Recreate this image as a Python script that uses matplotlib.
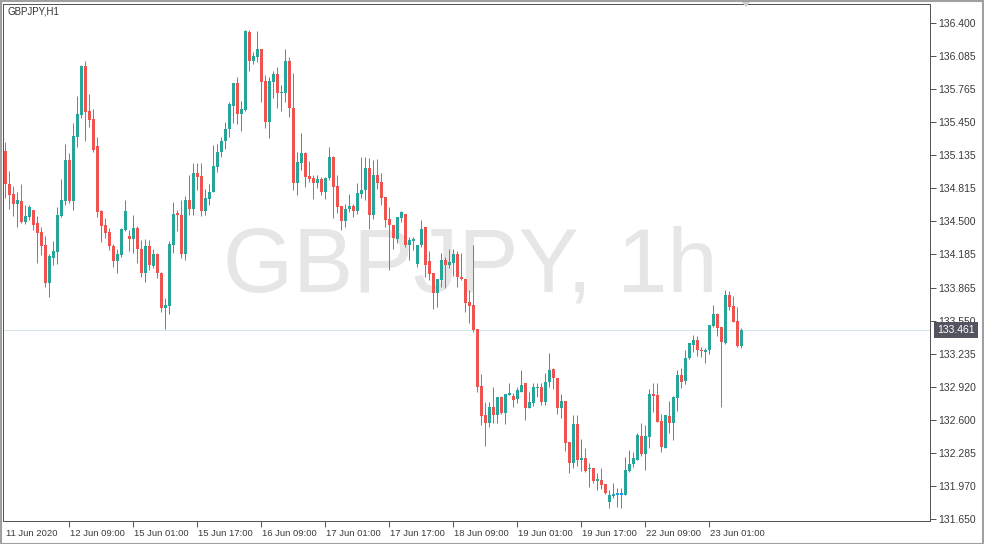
import matplotlib
matplotlib.use("Agg")
import matplotlib.pyplot as plt
import matplotlib.transforms as mtransforms
from matplotlib.patches import Rectangle, Polygon
import numpy as np

plt.rcParams['font.family'] = ['Liberation Sans', 'DejaVu Sans']

symbol_title = "GBPJPY,H1"
watermark = "GBPJPY, 1h"
time_labels = ["11 Jun 2020", "12 Jun 09:00", "15 Jun 01:00", "15 Jun 17:00",
               "16 Jun 09:00", "17 Jun 01:00", "17 Jun 17:00", "18 Jun 09:00",
               "19 Jun 01:00", "19 Jun 17:00", "22 Jun 09:00", "23 Jun 01:00"]
time_label_bars = [0, 16, 32, 48, 64, 80, 96, 112, 128, 144, 160, 176]
price_tick_labels = ["131.650", "131.970", "132.285", "132.600", "132.920",
                     "133.235", "133.550", "133.865", "134.185", "134.500",
                     "134.815", "135.135", "135.450", "135.765", "136.085",
                     "136.400"]
current_price = 133.461

opens = [135.174, 134.859, 134.763, 134.667, 134.695, 134.494, 134.542, 134.609, 134.485, 134.399,
         134.274, 133.910, 134.149, 134.207, 134.552, 134.695, 135.088, 134.695, 135.309, 135.519,
         135.988, 135.558, 135.481, 135.222, 134.600, 134.465, 134.399, 134.264, 134.121, 134.178,
         134.418, 134.360, 134.331, 134.437, 134.236, 134.006, 134.264, 134.073, 134.188, 134.006,
         133.670, 133.690, 134.274, 134.580, 134.561, 134.188, 134.705, 134.619, 134.964, 134.935,
         134.600, 134.715, 134.782, 135.021, 135.165, 135.270, 135.385, 135.606, 135.825, 135.529,
         135.567, 136.314, 136.036, 136.074, 136.151, 135.844, 135.452, 135.835, 135.911, 135.729,
         135.729, 136.036, 135.586, 134.868, 135.060, 135.155, 134.935, 134.916, 134.868, 134.906,
         134.782, 134.916, 135.117, 134.839, 134.648, 134.504, 134.619, 134.648, 134.600, 134.763,
         134.801, 135.012, 134.561, 134.945, 134.878, 134.734, 134.523, 134.465, 134.331, 134.533,
         134.571, 134.274, 134.312, 134.092, 134.274, 134.446, 134.121, 134.006, 133.814, 133.939,
         134.130, 134.083, 134.102, 134.188, 133.968, 133.948, 133.728, 133.699, 133.469, 132.923,
         132.646, 132.570, 132.723, 132.646, 132.818, 132.665, 132.837, 132.828, 132.799, 132.866,
         132.952, 132.713, 132.761, 132.904, 132.914, 132.771, 132.962, 133.086, 133.000, 132.713,
         132.780, 132.388, 132.187, 132.560, 132.215, 132.234, 132.129, 132.139, 132.014, 132.024,
         131.985, 131.813, 131.871, 131.890, 131.890, 131.880, 132.110, 132.177, 132.215, 132.445,
         132.273, 132.436, 132.847, 132.837, 132.589, 132.330, 132.637, 132.570, 132.809, 133.029,
         132.971, 133.191, 133.316, 133.364, 133.268, 133.249, 133.268, 133.498, 133.613, 133.488,
         133.335, 133.795, 133.690, 133.546, 133.306]

highs = [135.261, 134.983, 134.839, 134.782, 134.859, 134.657, 134.657, 134.609, 134.552, 134.446,
         134.360, 134.188, 134.312, 134.638, 134.906, 135.242, 135.155, 135.443, 135.701, 135.998,
         136.036, 135.720, 135.577, 135.309, 134.609, 134.533, 134.437, 134.284, 134.236, 134.437,
         134.705, 134.418, 134.561, 134.456, 134.322, 134.331, 134.322, 134.236, 134.197, 134.015,
         133.766, 134.312, 134.686, 134.609, 134.705, 134.744, 134.945, 135.060, 135.060, 135.060,
         134.811, 134.859, 135.232, 135.242, 135.309, 135.452, 135.644, 135.825, 135.883, 135.653,
         136.333, 136.333, 136.122, 136.323, 136.151, 135.902, 135.883, 135.940, 135.978, 135.806,
         136.151, 136.074, 135.921, 135.165, 135.347, 135.165, 135.079, 134.945, 134.945, 134.926,
         134.926, 135.213, 135.127, 134.945, 134.648, 134.667, 134.763, 134.667, 134.868, 135.117,
         135.117, 135.107, 135.088, 135.098, 134.964, 134.734, 134.638, 134.465, 134.542, 134.600,
         134.571, 134.351, 134.351, 134.274, 134.513, 134.446, 134.216, 134.006, 133.948, 134.197,
         134.159, 134.236, 134.236, 134.216, 134.197, 133.948, 133.843, 134.274, 133.469, 133.038,
         132.771, 132.771, 132.910, 132.818, 132.828, 132.847, 132.952, 132.856, 132.914, 133.077,
         132.952, 132.866, 132.952, 132.952, 132.952, 133.048, 133.239, 133.096, 133.000, 132.847,
         132.780, 132.388, 132.646, 132.646, 132.416, 132.330, 132.187, 132.139, 132.091, 132.139,
         131.985, 131.928, 131.995, 131.947, 131.947, 132.244, 132.311, 132.292, 132.474, 132.570,
         132.551, 132.895, 132.952, 132.952, 132.656, 132.646, 132.780, 132.828, 133.077, 133.096,
         133.268, 133.335, 133.412, 133.402, 133.297, 133.287, 133.507, 133.699, 133.622, 133.488,
         133.843, 133.833, 133.785, 133.680, 133.479]

lows = [134.724, 134.619, 134.552, 134.446, 134.485, 134.475, 134.513, 134.418, 134.102, 134.178,
        133.872, 133.776, 134.083, 134.092, 134.542, 134.657, 134.676, 134.609, 135.213, 135.491,
        135.270, 135.404, 135.165, 134.542, 134.303, 134.341, 134.226, 134.063, 134.006, 134.159,
        134.408, 134.216, 134.197, 134.102, 133.968, 133.920, 134.035, 134.054, 133.958, 133.632,
        133.469, 133.613, 134.197, 134.408, 134.149, 134.130, 134.561, 134.561, 134.801, 134.552,
        134.561, 134.657, 134.782, 134.973, 135.117, 135.194, 135.309, 135.443, 135.433, 135.366,
        135.558, 135.940, 136.007, 136.026, 135.644, 135.395, 135.299, 135.681, 135.586, 135.558,
        135.644, 135.500, 134.801, 134.753, 134.993, 134.830, 134.878, 134.715, 134.820, 134.753,
        134.715, 134.897, 134.533, 134.580, 134.418, 134.446, 134.590, 134.542, 134.571, 134.724,
        134.705, 134.427, 134.523, 134.811, 134.657, 134.446, 134.035, 134.236, 134.293, 134.494,
        134.255, 134.130, 134.226, 134.063, 134.255, 133.968, 133.939, 133.661, 133.680, 133.872,
        133.862, 134.054, 133.977, 133.872, 133.939, 133.632, 133.527, 133.441, 132.866, 132.550,
        132.349, 132.531, 132.570, 132.570, 132.656, 132.560, 132.837, 132.723, 132.761, 132.866,
        132.598, 132.713, 132.732, 132.818, 132.742, 132.742, 132.914, 132.895, 132.656, 132.618,
        132.301, 132.091, 132.139, 132.158, 132.110, 132.100, 131.957, 131.995, 131.928, 131.938,
        131.890, 131.755, 131.852, 131.765, 131.755, 131.880, 132.100, 132.148, 132.215, 132.254,
        132.120, 132.330, 132.675, 132.580, 132.292, 132.330, 132.474, 132.407, 132.685, 132.904,
        132.943, 133.182, 133.249, 133.211, 133.201, 133.144, 133.230, 133.488, 133.402, 132.723,
        133.326, 133.651, 133.536, 133.297, 133.287]

closes = [134.859, 134.753, 134.667, 134.705, 134.494, 134.552, 134.638, 134.465, 134.389, 134.264,
          133.910, 134.169, 134.216, 134.561, 134.705, 135.088, 134.695, 135.318, 135.529, 135.988,
          135.548, 135.471, 135.184, 134.590, 134.456, 134.389, 134.264, 134.121, 134.188, 134.427,
          134.600, 134.331, 134.437, 134.236, 134.006, 134.264, 134.083, 134.188, 134.006, 133.670,
          133.699, 134.284, 134.571, 134.561, 134.188, 134.705, 134.619, 134.964, 134.926, 134.600,
          134.724, 134.782, 135.031, 135.165, 135.270, 135.385, 135.625, 135.825, 135.529, 135.577,
          136.323, 136.036, 136.084, 136.151, 135.835, 135.452, 135.844, 135.911, 135.729, 135.739,
          136.036, 135.586, 134.868, 135.069, 135.155, 134.926, 134.906, 134.868, 134.906, 134.782,
          134.916, 135.117, 134.830, 134.638, 134.504, 134.619, 134.648, 134.600, 134.772, 134.801,
          135.012, 134.561, 134.945, 134.868, 134.724, 134.513, 134.465, 134.341, 134.542, 134.590,
          134.274, 134.322, 134.331, 134.274, 134.427, 134.083, 133.996, 133.814, 133.948, 134.130,
          134.083, 134.111, 134.188, 133.968, 133.948, 133.718, 133.690, 133.460, 132.914, 132.637,
          132.570, 132.723, 132.646, 132.818, 132.665, 132.847, 132.856, 132.790, 132.885, 132.933,
          132.713, 132.771, 132.914, 132.914, 132.771, 132.962, 133.077, 133.000, 132.713, 132.780,
          132.378, 132.187, 132.560, 132.215, 132.234, 132.110, 132.139, 132.014, 132.033, 131.976,
          131.900, 131.880, 131.890, 131.890, 131.890, 132.120, 132.177, 132.234, 132.455, 132.273,
          132.445, 132.847, 132.828, 132.580, 132.340, 132.646, 132.570, 132.818, 133.029, 132.962,
          133.191, 133.335, 133.364, 133.268, 133.258, 133.268, 133.507, 133.613, 133.479, 133.345,
          133.795, 133.680, 133.536, 133.306, 133.461]

UP = '#26a69a'
DOWN = '#ef5350'
DOJI = '#2196f3'

W, H = 984, 544
fig = plt.figure(figsize=(W / 100, H / 100), dpi=100)
fig.patch.set_facecolor('white')

# chart frame in pixels: left 3, right 930, top 4, bottom 521
ax = fig.add_axes([3 / W, (H - 521) / H, (930 - 3) / W, (521 - 4) / H])
ax.set_facecolor('white')

o = np.array(opens); h = np.array(highs); l = np.array(lows); c = np.array(closes)
x = np.arange(len(o))
colors = np.where(c > o, UP, np.where(c < o, DOWN, DOJI))

px = 1 * 72 / 100  # one pixel in points
ax.vlines(x, l, h, colors=colors, linewidth=px, zorder=3)
bottoms = np.minimum(o, c)
heights = np.maximum(np.abs(c - o), 0.011)
ax.bar(x, heights, bottom=bottoms - np.where(c == o, 0.0055, 0), width=0.75,
       color=colors, linewidth=0, zorder=4)

# watermark
ax.text(0.5043, 0.489, watermark, transform=ax.transAxes, ha='center', va='center',
        fontsize=65, color='#e6e6e6', zorder=0)

# current price line
ax.axhline(current_price, color='#d3e3ec', linewidth=px, zorder=1)

# limits
ax.set_xlim(-0.575, 231.175)
ax.set_ylim(131.631, 136.582)

# y axis on the right
ax.yaxis.tick_right()
ax.set_yticks(np.linspace(131.65, 136.4, len(price_tick_labels)))
ax.set_yticklabels(price_tick_labels)
ax.tick_params(axis='y', direction='out', length=4, width=px, color='#555555',
               labelsize=7.5, labelcolor='#3a3a3a', pad=2)

ax.set_xticks(time_label_bars)
ax.set_xticklabels(time_labels)
ax.tick_params(axis='x', direction='out', length=4, width=px, color='#555555',
               labelsize=6.8, labelcolor='#3a3a3a', pad=1.5)
offset = mtransforms.ScaledTranslation(1 / 100, 0, fig.dpi_scale_trans)
for lbl in ax.get_xticklabels():
    lbl.set_horizontalalignment('left')
    lbl.set_transform(lbl.get_transform() + offset)
ax.xaxis.get_major_ticks()[0].tick1line.set_visible(False)

for s in ax.spines.values():
    s.set_color('#555555')
    s.set_linewidth(px)

# current price label box
ax.annotate(f"{current_price:.3f}", xy=(1, current_price), xycoords=('axes fraction', 'data'),
            xytext=(5, 0), textcoords='offset points', ha='left', va='center',
            fontsize=7.5, color='white',
            bbox=dict(boxstyle='square,pad=0.3', facecolor='#545460', edgecolor='none'),
            annotation_clip=False)

# title
fig.text(8 / W, 1 - 12 / H, symbol_title, ha='left', va='center', fontsize=7.0, color='#333333')

# chart-shift marker
fig.patches.append(Polygon([[741 / W, 1 - 1 / H], [751 / W, 1 - 1 / H], [746 / W, 1 - 7 / H]],
                           closed=True, transform=fig.transFigure, facecolor='#cfcfcf',
                           edgecolor='none'))

# outer border
fig.patches.append(Rectangle((0.5 / W, 0.5 / H), 1 - 1.5 / W, 1 - 1.5 / H, transform=fig.transFigure,
                             fill=False, edgecolor='#a0a0a0', linewidth=1.5))

fig.savefig('out.png', dpi=100, facecolor='white')
